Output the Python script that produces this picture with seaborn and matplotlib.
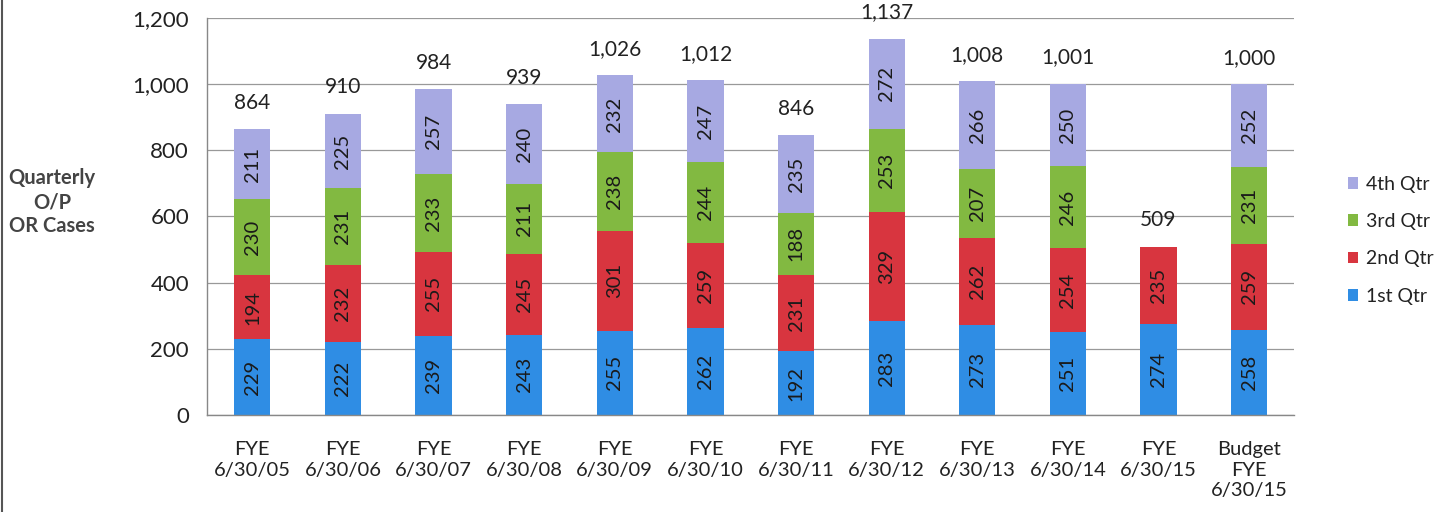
import numpy as np
import pandas as pd
import matplotlib
matplotlib.use("Agg")
import matplotlib.pyplot as plt
import seaborn as sns

categories = ["FYE\n6/30/05", "FYE\n6/30/06", "FYE\n6/30/07", "FYE\n6/30/08",
              "FYE\n6/30/09", "FYE\n6/30/10", "FYE\n6/30/11", "FYE\n6/30/12",
              "FYE\n6/30/13", "FYE\n6/30/14", "FYE\n6/30/15", "Budget\nFYE\n6/30/15"]
q1 = [229, 222, 239, 243, 255, 262, 192, 283, 273, 251, 274, 258]
q2 = [194, 232, 255, 245, 301, 259, 231, 329, 262, 254, 235, 259]
q3 = [230, 231, 233, 211, 238, 244, 188, 253, 207, 246, 0, 231]
q4 = [211, 225, 257, 240, 232, 247, 235, 272, 266, 250, 0, 252]
series_names = ["1st Qtr", "2nd Qtr", "3rd Qtr", "4th Qtr"]
colors = ["#2F8DE4", "#D8353F", "#82B941", "#A7A9E2"]

sns.set_theme(style="white")
plt.rcParams["font.family"] = ["Lato", "DejaVu Sans"]

fig = plt.figure(figsize=(14.43, 5.12), dpi=100)
ax = fig.add_axes([0.1435, 0.1895, 0.7535, 0.7755])

series = [q1, q2, q3, q4]
bottom = np.zeros(len(categories))
for name, vals, col in zip(series_names, series, colors):
    df = pd.DataFrame({"cat": categories, "val": vals})
    sns.barplot(data=df, x="cat", y="val", bottom=bottom, color=col, width=0.4,
                ax=ax, label=name, edgecolor="none", saturation=1, errorbar=None)
    bottom = bottom + np.array(vals)

# value labels inside each segment
for bar_container in ax.containers:
    for rect in bar_container:
        h = rect.get_height()
        if h <= 0:
            continue
        ax.text(rect.get_x() + rect.get_width() / 2, rect.get_y() + h / 2,
                f"{int(round(h))}", rotation=90, ha="center", va="center",
                fontsize=14.5, color="#1a1a1a")

# totals above each bar
totals = bottom
for i, t in enumerate(totals):
    ax.annotate(f"{int(t):,}", (i, t), xytext=(0, 19), textcoords="offset points",
                ha="center", va="center", fontsize=15, color="#222222")

ax.set_ylim(0, 1200)
ax.set_xlim(-0.5, len(categories) - 0.5)
ax.set_yticks(np.arange(0, 1201, 200))
ax.set_yticklabels([f"{v:,}" for v in range(0, 1201, 200)], fontsize=16, color="#222222")
ax.set_xticks(range(len(categories)))
ax.set_xticklabels(categories, fontsize=14.5, color="#222222", linespacing=1.25)
ax.set_xticks(np.arange(-0.5, len(categories), 1), minor=True)
ax.tick_params(axis="x", which="major", length=0, pad=19)
ax.tick_params(axis="x", which="minor", length=5, color="#888888", direction="out")
ax.tick_params(axis="y", length=5, color="#888888", direction="out", pad=8)
ax.set_xlabel("")
ax.set_ylabel("")
ax.yaxis.grid(True, color="#999999", linewidth=0.9)
ax.set_axisbelow(True)
for s in ["top", "right"]:
    ax.spines[s].set_visible(False)
for s in ["left", "bottom"]:
    ax.spines[s].set_color("#888888")
    ax.spines[s].set_linewidth(1.0)

fig.text(0.036, 0.605, "Quarterly\nO/P\nOR Cases", ha="center", va="center",
         fontsize=14.5, fontweight="bold", color="#444444", linespacing=1.25)

handles, labels = ax.get_legend_handles_labels()
leg = ax.legend(handles[::-1], labels[::-1], loc="center left",
                bbox_to_anchor=(1.033, 0.44), frameon=False, fontsize=14,
                handlelength=0.55, handleheight=0.55, labelspacing=1.05,
                handletextpad=0.4)
for t in leg.get_texts():
    t.set_color("#222222")

fig.add_artist(plt.Line2D([0.0015, 0.0015], [0, 1], color="#555555", linewidth=1.5,
                          transform=fig.transFigure))

fig.savefig("out.png", dpi=100)
